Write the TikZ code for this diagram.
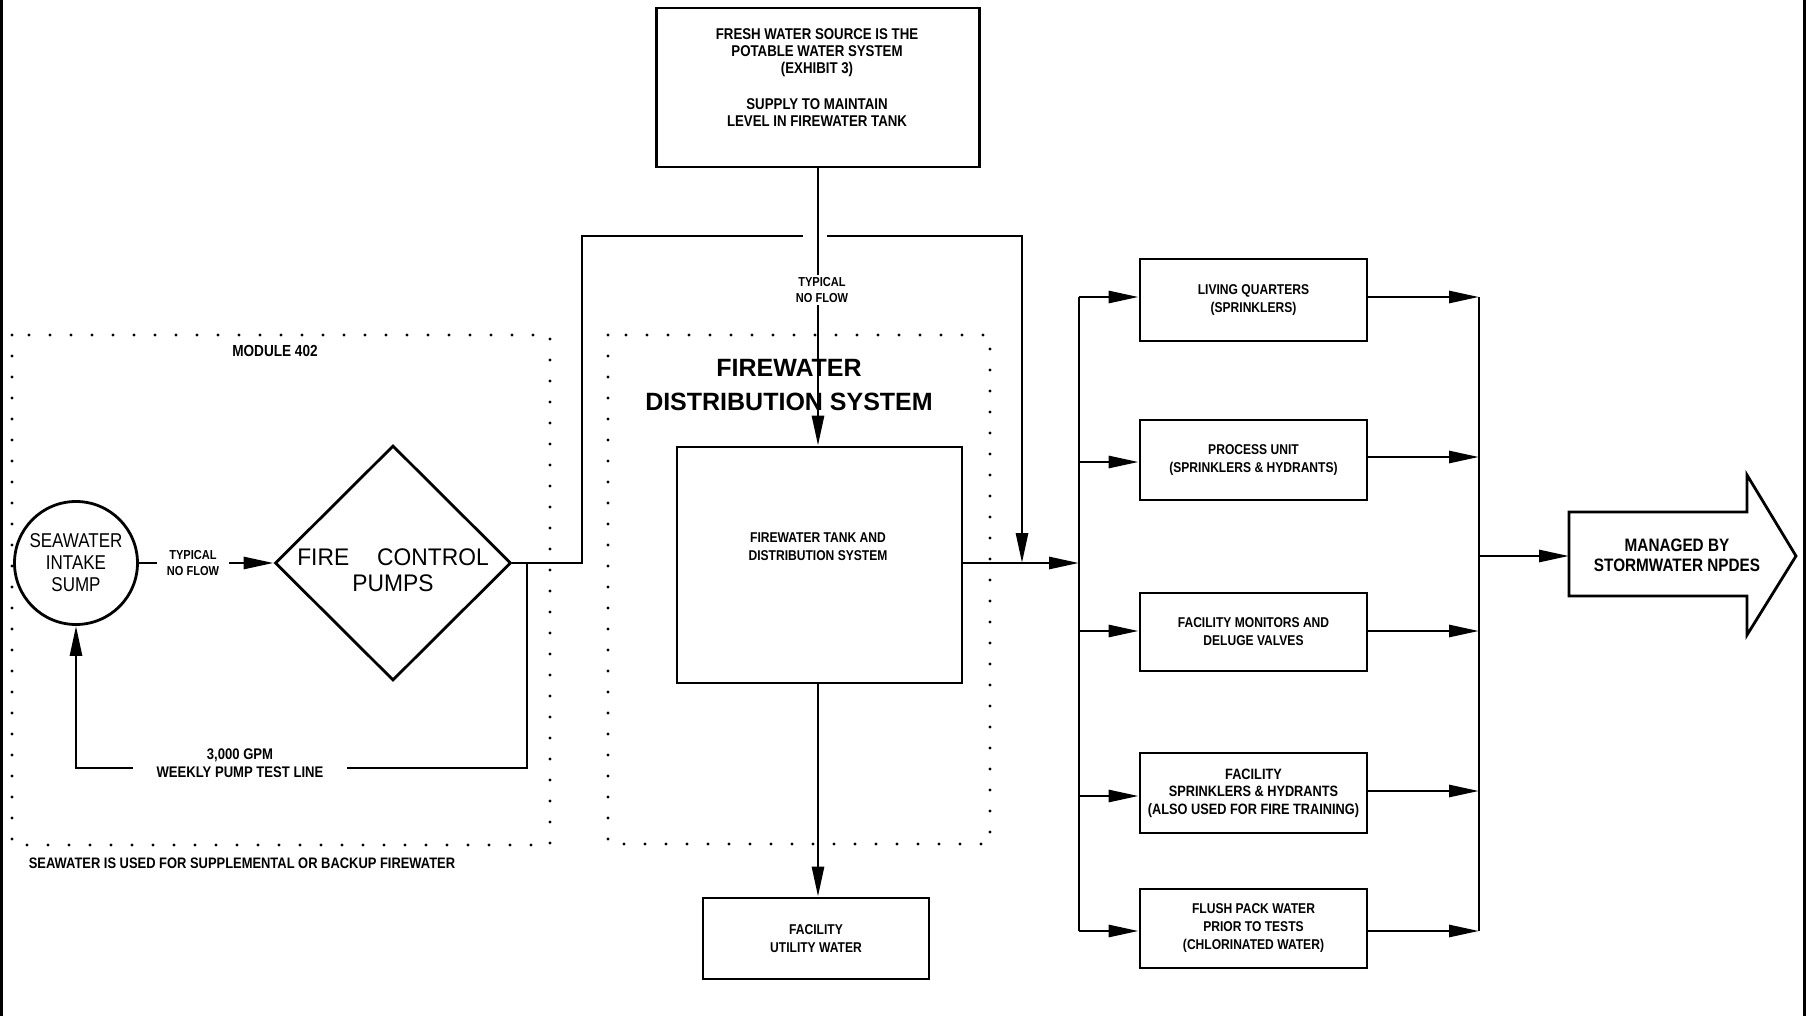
\documentclass[tikz,border=0pt]{standalone}
\usepackage{fontspec}
\usetikzlibrary{arrows.meta,shapes.geometric}
\newfontfamily\cad[FakeStretch=0.85]{Liberation Sans}
\newfontfamily\cadp[FakeStretch=0.95]{Liberation Sans}
\newfontfamily\cadw{Liberation Sans}
\newcommand\smallcad{\cad\bfseries\fontsize{7.1}{9}\selectfont}
\newcommand\tinycad{\cad\bfseries\fontsize{6.5}{8}\selectfont}
\newcommand\titlecad{\cadw\bfseries\fontsize{12.5}{17}\selectfont}
\tikzset{
  pipe/.style={line width=1.4pt},
  arr/.style={-{Triangle[length=15pt,width=6pt]}},
  box/.style={draw,line width=1.4pt,inner sep=0pt,align=center,font=\smallcad},
  txt/.style={inner sep=0pt,align=center,font=\smallcad},
  lbl/.style={fill=white,inner xsep=3pt,inner ysep=1pt,align=center,font=\tinycad},
  dotbox/.style={draw,line width=1.6pt,line cap=round,dash pattern=on 0pt off 10.5pt},
}
\begin{document}
\begin{tikzpicture}[x=0.5pt,y=-0.5pt]
\useasboundingbox (0,0) rectangle (1806,1016);
% page border lines
\draw[line width=1.5pt] (1.5,0) -- (1.5,1016);
\draw[line width=1.5pt] (1804.5,0) -- (1804.5,1016);

% dotted enclosures
\draw[dotbox] (12,335) rectangle (550,845);
\draw[dotbox] (608,335) rectangle (990,844);
\node[txt,font=\cad\bfseries\fontsize{8}{9}\selectfont] (module) at (275,351) {MODULE 402};
\node[txt,font=\cad\bfseries\fontsize{7.6}{9}\selectfont] (note) at (242,863) {SEAWATER IS USED FOR SUPPLEMENTAL OR BACKUP FIREWATER};

% top box
\node[box,minimum width=161.5pt,minimum height=79.5pt] (fresh) at (818,87.5) {};
\node[txt,font=\cad\bfseries\fontsize{7.8}{8.6}\selectfont] (freshtxt) at (817,77.5) {FRESH WATER SOURCE IS THE\\POTABLE WATER SYSTEM\\(EXHIBIT 3)\\[9pt]SUPPLY TO MAINTAIN\\LEVEL IN FIREWATER TANK};

% tank
\node[box,minimum width=142.5pt,minimum height=118pt] (tank) at (819.5,565) {};
\node[txt] (tanktxt) at (818,546.5) {FIREWATER TANK AND\\DISTRIBUTION SYSTEM};
\node[inner sep=0pt,align=center,font=\titlecad] (title) at (789,385) {FIREWATER\\DISTRIBUTION SYSTEM};

% utility water
\node[box,minimum width=113pt,minimum height=40.5pt] (util) at (816,938.5) {FACILITY\\UTILITY WATER};

% sump and pumps
\node[circle,draw,line width=1.4pt,minimum size=61.5pt,inner sep=0pt,align=center,
      font=\cad\fontsize{10}{11}\selectfont] (sump) at (76,563) {SEAWATER\\INTAKE\\SUMP};
\node[diamond,draw,line width=1.4pt,minimum width=118pt,minimum height=117.5pt,inner sep=0pt] (pumps) at (393,563) {};
\node[inner sep=0pt,align=center,font=\cadp\fontsize{12}{13}\selectfont] (pumpstxt) at (393,570) {FIRE\hspace{14pt}CONTROL\\PUMPS};

% right column boxes
\node[box,minimum width=113.5pt,minimum height=41pt] (living) at (1253.5,300) {LIVING QUARTERS\\(SPRINKLERS)};
\node[box,minimum width=113.5pt,minimum height=40pt] (process) at (1253.5,460) {PROCESS UNIT\\(SPRINKLERS \& HYDRANTS)};
\node[box,minimum width=113.5pt,minimum height=39pt] (monitors) at (1253.5,632) {FACILITY MONITORS AND\\DELUGE VALVES};
\node[box,minimum width=113.5pt,minimum height=40pt,font=\cad\bfseries\fontsize{7.5}{8.8}\selectfont] (sprink) at (1253.5,793) {FACILITY\\SPRINKLERS \& HYDRANTS\\(ALSO USED FOR FIRE TRAINING)};
\node[box,minimum width=113.5pt,minimum height=39.5pt] (flush) at (1253.5,928.5) {FLUSH PACK WATER\\PRIOR TO TESTS\\(CHLORINATED WATER)};

% big outlet arrow
\coordinate (npdesTail) at (1569,556);
\draw[pipe] (1569,512) -- (1747,512) -- (1747,475) -- (1796,556) -- (1747,635) -- (1747,596) -- (1569,596) -- cycle;
\node[inner sep=0pt,align=center,font=\cad\bfseries\fontsize{9}{10}\selectfont] (npdes) at (1677,555) {MANAGED BY\\STORMWATER NPDES};

% coordinates of pipe corners and junctions
\coordinate (riserTop) at (582,236);
\coordinate (gapL) at (803,236);
\coordinate (gapR) at (827,236);
\coordinate (junc) at (1022,563);
\coordinate (busIn) at (1079,563);
\coordinate (testTop) at (527,563);
\coordinate (testBot) at (527,768);
\coordinate (bL1) at (1079,297);
\coordinate (bL2) at (1079,462);
\coordinate (bL3) at (1079,631);
\coordinate (bL4) at (1079,796);
\coordinate (bL5) at (1079,931);
\coordinate (bR1) at (1479,297);
\coordinate (bR2) at (1479,457);
\coordinate (bR3) at (1479,631);
\coordinate (bR4) at (1479,791);
\coordinate (bR5) at (1479,931);
\coordinate (bR0) at (1479,556);

% connectors
\draw[pipe,arr] (fresh.south) -- (fresh.south |- tank.north);
\draw[pipe,arr] (tank.south -| fresh.south) -- (fresh.south |- util.north);
\draw[pipe] (pumps.east) -| (riserTop) -- (gapL);
\draw[pipe,arr] (gapR) -| (junc);
\draw[pipe,arr] (tank.east |- busIn) -- (busIn);
\draw[pipe,arr] (sump.east) -- (pumps.west);
\draw[pipe,arr] (testTop) -- (testBot) -| (sump.south);

\draw[pipe] (bL1) -- (bL5);
\draw[pipe] (bR1) -- (bR5);
\draw[pipe,arr] (bL1) -- (bL1 -| living.west);
\draw[pipe,arr] (bL2) -- (bL2 -| process.west);
\draw[pipe,arr] (bL3) -- (bL3 -| monitors.west);
\draw[pipe,arr] (bL4) -- (bL4 -| sprink.west);
\draw[pipe,arr] (bL5) -- (bL5 -| flush.west);
\draw[pipe,arr] (living.east |- bR1) -- (bR1);
\draw[pipe,arr] (process.east |- bR2) -- (bR2);
\draw[pipe,arr] (monitors.east |- bR3) -- (bR3);
\draw[pipe,arr] (sprink.east |- bR4) -- (bR4);
\draw[pipe,arr] (flush.east |- bR5) -- (bR5);
\draw[pipe,arr] (bR0) -- (npdesTail);

% line labels (drawn over the lines)
\node[lbl] (nf1) at (822,290) {TYPICAL\\NO FLOW};
\node[lbl,inner xsep=5pt] (nf2) at (193,563) {TYPICAL\\NO FLOW};
\node[lbl,inner xsep=12pt,font=\cad\bfseries\fontsize{7.7}{9}\selectfont] (testlbl) at (240,763) {3,000 GPM\\WEEKLY PUMP TEST LINE};
\end{tikzpicture}
\end{document}
